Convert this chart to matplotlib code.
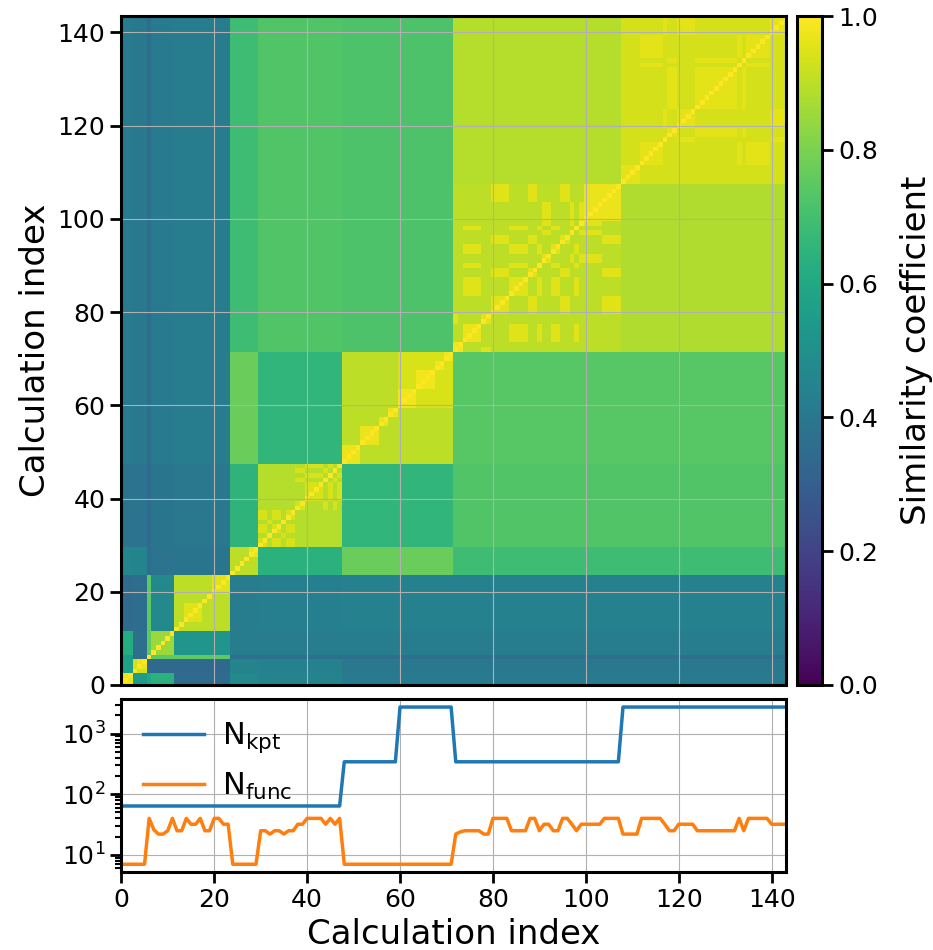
import numpy as np
import matplotlib.pyplot as plt

# Grupos de calculos (inicio, fin) usados para la matriz de similitud
groups = [(0, 3), (3, 6), (6, 7), (7, 12), (12, 24), (24, 30),
          (30, 48), (48, 60), (60, 72), (72, 108), (108, 144)]
# Similitud media entre grupos (fila = eje y, columna = eje x)
group_similarity = [
    [.97, .55, .60, .64, .35, .47, .45, .41, .41, .41, .41],
    [.57, .93, .34, .34, .34, .45, .44, .40, .40, .40, .40],
    [.55, .36, 1.0, .75, .75, .37, .37, .37, .37, .37, .37],
    [.62, .37, .75, .85, .52, .42, .42, .42, .42, .42, .42],
    [.35, .36, .75, .47, .90, .42, .43, .44, .44, .44, .44],
    [.46, .45, .36, .38, .39, .90, .64, .77, .77, .69, .69],
    [.38, .38, .35, .39, .40, .65, .89, .66, .66, .73, .73],
    [.41, .40, .36, .41, .42, .77, .66, .90, .90, .74, .74],
    [.41, .40, .36, .41, .42, .77, .66, .90, .94, .74, .74],
    [.41, .40, .36, .41, .42, .69, .73, .72, .72, .90, .88],
    [.41, .40, .36, .41, .42, .69, .73, .72, .72, .89, .935],
]
# Bloques con calculos casi identicos (inicio, fin, similitud)
sub_blocks = [(4, 6, .97), (14, 18, .95), (20, 24, .95), (28, 30, .97),
              (48, 52, .97), (52, 56, .97), (56, 58, .97), (58, 60, .97),
              (60, 64, .98), (64, 68, .98), (68, 70, .98), (70, 72, .98),
              (72, 74, .98), (74, 78, .97), (100, 108, .97)]
# Grupos donde el mismo numero de funciones da mayor similitud
same_func_blocks = [(30, 48, .94), (72, 108, .95), (108, 144, .96)]

# Numero de puntos k y de funciones de cada calculo
n_kpt = [64] * 48 + [343] * 12 + [2744] * 12 + [343] * 36 + [2744] * 36
n_func = ([7] * 6
          + [40, 26, 22, 22, 25, 40, 25, 25, 40, 32, 32, 40,
             25, 25, 40, 40, 32, 32]
          + [7] * 6
          + [25, 25, 22, 25, 25, 22, 25, 25, 32, 32, 40, 40,
             40, 40, 32, 40, 32, 40]
          + [7] * 24
          + [22, 24, 25, 25, 25, 25, 22, 22, 40, 40, 40, 40,
             25, 25, 25, 25, 40, 40, 25, 32, 32, 25, 25, 40,
             40, 32, 25, 32, 32, 32, 32, 32, 40, 40, 40, 40]
          + [22, 22, 22, 22, 40, 40, 40, 40, 40, 32, 25, 25,
             32, 32, 32, 32, 25, 25, 25, 25, 25, 25, 25, 25,
             25, 40, 25, 40, 40, 40, 40, 40, 32, 32, 32, 32])

n = len(n_kpt)
index = np.arange(n)
func = np.array(n_func)

# Construccion de la matriz
matrix = np.zeros((n, n))
for i, (r0, r1) in enumerate(groups):
    for j, (c0, c1) in enumerate(groups):
        matrix[r0:r1, c0:c1] = group_similarity[i][j]
for start, end, value in same_func_blocks:
    same = func[start:end, None] == func[None, start:end]
    block = matrix[start:end, start:end]
    block[same] = value
for start, end, value in sub_blocks:
    matrix[start:end, start:end] = value
np.fill_diagonal(matrix, 1.0)

fig = plt.figure(figsize=(9.33, 9.5), dpi=100)
ax = fig.add_axes([0.130, 0.279, 0.712, 0.704])
ax2 = fig.add_axes([0.130, 0.082, 0.712, 0.182])
cax = fig.add_axes([0.854, 0.279, 0.027, 0.704])

img = ax.imshow(matrix, origin="lower", cmap="viridis", vmin=0, vmax=1,
                aspect="auto", interpolation="nearest")
ax.set_xlim(0, n - 1)
ax.set_ylim(0, n - 0.5)
ax.set_xticks(range(0, 141, 20))
ax.set_yticks(range(0, 141, 20))
ax.tick_params(axis="x", length=0, labelbottom=False)
ax.grid(True)
ax.set_ylabel("Calculation index", fontsize=24.5, labelpad=4)

cbar = fig.colorbar(img, cax=cax)
cbar.set_label("Similarity coefficient", fontsize=24.5, labelpad=16)
cbar.set_ticks([0, 0.2, 0.4, 0.6, 0.8, 1.0])

ax2.plot(index, n_kpt, lw=2.5, label=r"N$_{\mathregular{kpt}}$")
ax2.plot(index, n_func, lw=2.5, label=r"N$_{\mathregular{func}}$")
ax2.set_yscale("log")
ax2.set_xlim(0, n - 1)
ax2.set_xticks(range(0, 141, 20))
ax2.grid(True)
ax2.set_xlabel("Calculation index", fontsize=24.5, labelpad=4)
ax2.legend(loc="upper left", fontsize=22, frameon=False,
           borderaxespad=0.3, handletextpad=0.6)

for axis in [ax, ax2, cax]:
    for spine in axis.spines.values():
        spine.set_linewidth(2.2)
    axis.tick_params(which="major", labelsize=18, length=8, width=2)
    axis.tick_params(which="minor", length=4.5, width=1.5)
cbar.outline.set_linewidth(2.2)
ax.tick_params(axis="x", length=0)

plt.savefig("out.png", dpi=100)
